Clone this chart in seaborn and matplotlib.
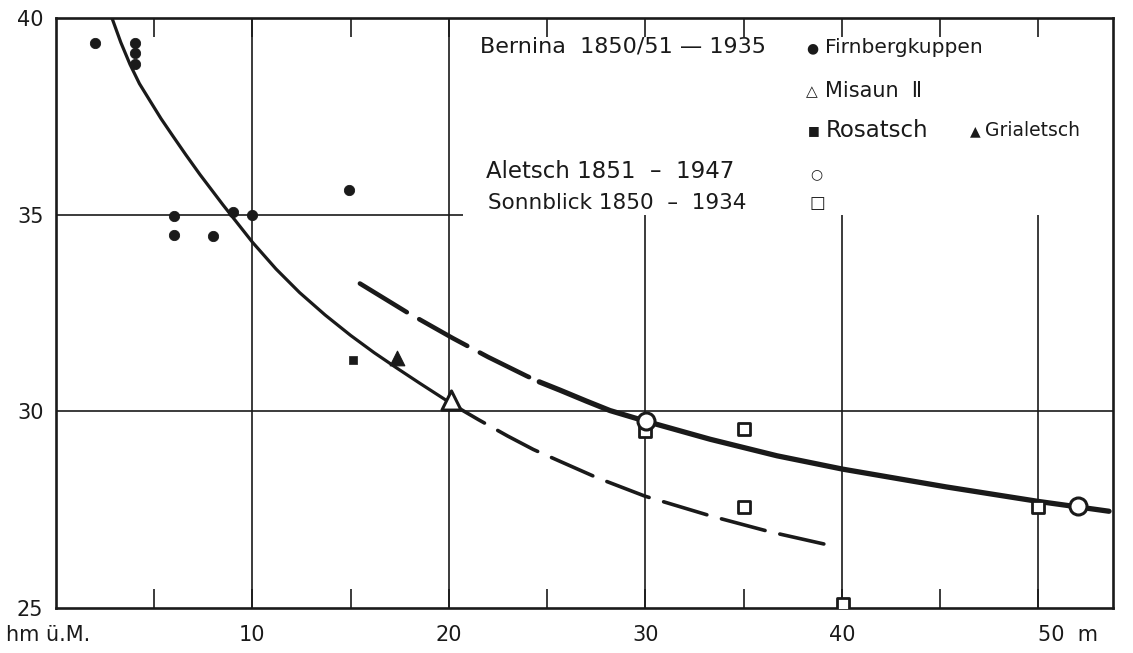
import matplotlib
matplotlib.use("Agg")
import matplotlib.pyplot as plt
import seaborn as sns

# Messpunkte (x in m, y in hm ü.M.)
firn_x = [2.0, 4.0, 4.0, 4.0, 6.0, 6.0, 8.0, 9.0, 10.0, 14.9]
firn_y = [39.37, 39.37, 39.11, 38.83, 34.97, 34.49, 34.47, 35.08, 35.0, 35.63]
misaun_x = [20.1]
misaun_y = [30.3]
rosatsch_x = [15.1]
rosatsch_y = [31.3]
grialetsch_x = [17.35]
grialetsch_y = [31.35]
aletsch_x = [30.05, 52.0]
aletsch_y = [29.76, 27.59]
sonnblick_x = [30.0, 35.0, 35.0, 40.05, 49.97]
sonnblick_y = [29.5, 29.54, 27.57, 25.1, 27.57]

# Kurve Bernina (steil): ausgezogen, dann gestrichelt
bern_solid_x = [2.85, 3.3, 3.77, 4.25, 4.78, 5.35, 5.95, 6.6, 7.33, 8.5, 10.0,
                11.2, 12.4, 13.7, 15.0, 16.2, 17.35, 18.5, 19.4, 20.3]
bern_solid_y = [40.0, 39.38, 38.82, 38.33, 37.9, 37.44, 37.0, 36.53, 36.02, 35.25, 34.3,
                33.62, 33.02, 32.45, 31.93, 31.49, 31.1, 30.72, 30.43, 30.14]
bern_dash_x = [20.3, 21.5, 23.0, 24.3, 25.65, 27.6, 30.0, 33.4, 36.4, 39.6]
bern_dash_y = [30.14, 29.79, 29.37, 29.03, 28.73, 28.3, 27.84, 27.33, 26.93, 26.57]

# Kurve Aletsch/Sonnblick: gestrichelt, dann ausgezogen
alp_dash_x = [15.47, 17.86, 20.2, 22.0, 23.95, 24.6]
alp_dash_y = [33.25, 32.52, 31.86, 31.38, 30.9, 30.75]
alp_solid_x = [24.6, 25.65, 27.0, 28.2, 30.08, 33.3, 36.7, 40.05, 45.3, 50.0, 53.6]
alp_solid_y = [30.75, 30.54, 30.26, 30.02, 29.74, 29.29, 28.87, 28.53, 28.08, 27.71, 27.46]

xtick_pos = [10, 20, 30, 40, 50]
xtick_labels = ["10", "20", "30", "40", "50  m"]
xminor_pos = [5, 15, 25, 35, 45]
ytick_pos = [25, 30, 35, 40]
ytick_labels = ["25", "30", "35", "40"]

sns.set_style("white")
plt.rcParams["font.family"] = ["DejaVu Sans"]

fig = plt.figure(figsize=(11.33, 6.53), dpi=100)
ax = fig.add_axes([0.0494, 0.0689, 0.9329, 0.9035])
ax.set_xlim(0, 53.8)
ax.set_ylim(25, 40)

ink = "#1a1a1a"

# Gitter
for gx in [10, 20]:
    ax.axvline(gx, color=ink, lw=1.2, zorder=1)
ax.vlines([30, 40, 50], 25, 35, color=ink, lw=1.2, zorder=1)
ax.axhline(30, color=ink, lw=1.2, zorder=1)
ax.hlines(35, 0, 20.7, color=ink, lw=1.2, zorder=1)

# Kurven
sns.lineplot(x=bern_solid_x, y=bern_solid_y, sort=False, estimator=None,
             color=ink, lw=2.3, ax=ax, zorder=3)
sns.lineplot(x=bern_dash_x, y=bern_dash_y, sort=False, estimator=None,
             color=ink, lw=2.6, ax=ax, zorder=3, dashes=False,
             linestyle=(3, (12.5, 4.2)))
ax.lines[-1].set_dash_capstyle("round")
sns.lineplot(x=alp_dash_x, y=alp_dash_y, sort=False, estimator=None,
             color=ink, lw=3.3, ax=ax, zorder=3, dashes=False,
             linestyle=(0, (12, 3.1)))
ax.lines[-1].set_dash_capstyle("round")
sns.lineplot(x=alp_solid_x, y=alp_solid_y, sort=False, estimator=None,
             color=ink, lw=3.8, ax=ax, zorder=3)
for ln in ax.lines:
    ln.set_solid_joinstyle("round")
    ln.set_solid_capstyle("round")

# Punkte
sns.scatterplot(x=firn_x, y=firn_y, marker="o", s=55, color=ink,
                edgecolor=ink, ax=ax, zorder=4)
sns.scatterplot(x=rosatsch_x, y=rosatsch_y, marker="s", s=38, color=ink,
                edgecolor=ink, ax=ax, zorder=4)
sns.scatterplot(x=grialetsch_x, y=grialetsch_y, marker="^", s=110, color=ink,
                edgecolor=ink, ax=ax, zorder=4)
sns.scatterplot(x=misaun_x, y=misaun_y, marker="^", s=190, color="white",
                edgecolor=ink, linewidth=2.2, ax=ax, zorder=5)
sns.scatterplot(x=sonnblick_x, y=sonnblick_y, marker="s", s=80, color="white",
                edgecolor=ink, linewidth=2.0, ax=ax, zorder=5)
sns.scatterplot(x=aletsch_x, y=aletsch_y, marker="o", s=150, color="white",
                edgecolor=ink, linewidth=2.2, ax=ax, zorder=6)

# Achsen
for sp in ax.spines.values():
    sp.set_visible(True)
    sp.set_color(ink)
    sp.set_linewidth(1.9)

ax.set_xticks(xtick_pos, xtick_labels)
ax.set_xticks(xminor_pos, minor=True)
ax.set_yticks(ytick_pos, ytick_labels)
ax.tick_params(axis="x", which="both", direction="in", top=True, bottom=True,
               length=14, width=1.2, color=ink, labelsize=15, pad=12,
               labelcolor=ink)
ax.tick_params(axis="y", which="both", length=0, labelsize=15, pad=9,
               labelcolor=ink)
last = ax.get_xticklabels()[-1]
last.set_horizontalalignment("left")
last.set_x(49.3)

ax.set_xlabel("")
ax.set_ylabel("")
ax.text(-0.047, -0.046, "hm ü.M.", transform=ax.transAxes, fontsize=15,
        color=ink, ha="left", va="center")

# Legende (Texte)
lab = dict(color=ink, va="center", ha="left")
ax.text(21.6, 39.28, "Bernina  1850/51 — 1935", fontsize=16, **lab)
ax.text(38.2, 39.24, "●", fontsize=10, **lab)
ax.text(39.15, 39.24, "Firnbergkuppen", fontsize=14.5, **lab)
ax.text(38.15, 38.13, "△", fontsize=11, **lab)
ax.text(39.15, 38.15, "Misaun  Ⅱ", fontsize=15, **lab)
ax.text(38.25, 37.13, "■", fontsize=9, **lab)
ax.text(39.2, 37.13, "Rosatsch", fontsize=16.5, **lab)
ax.text(46.5, 37.13, "▲", fontsize=10, **lab)
ax.text(47.3, 37.13, "Grialetsch", fontsize=13.5, **lab)
ax.text(21.9, 36.09, "Aletsch 1851  –  1947", fontsize=16.5, **lab)
ax.text(38.4, 36.03, "○", fontsize=10, **lab)
ax.text(22.0, 35.3, "Sonnblick 1850  –  1934", fontsize=15.5, **lab)
ax.text(38.35, 35.3, "□", fontsize=12, **lab)

fig.savefig("out.png", dpi=100)
